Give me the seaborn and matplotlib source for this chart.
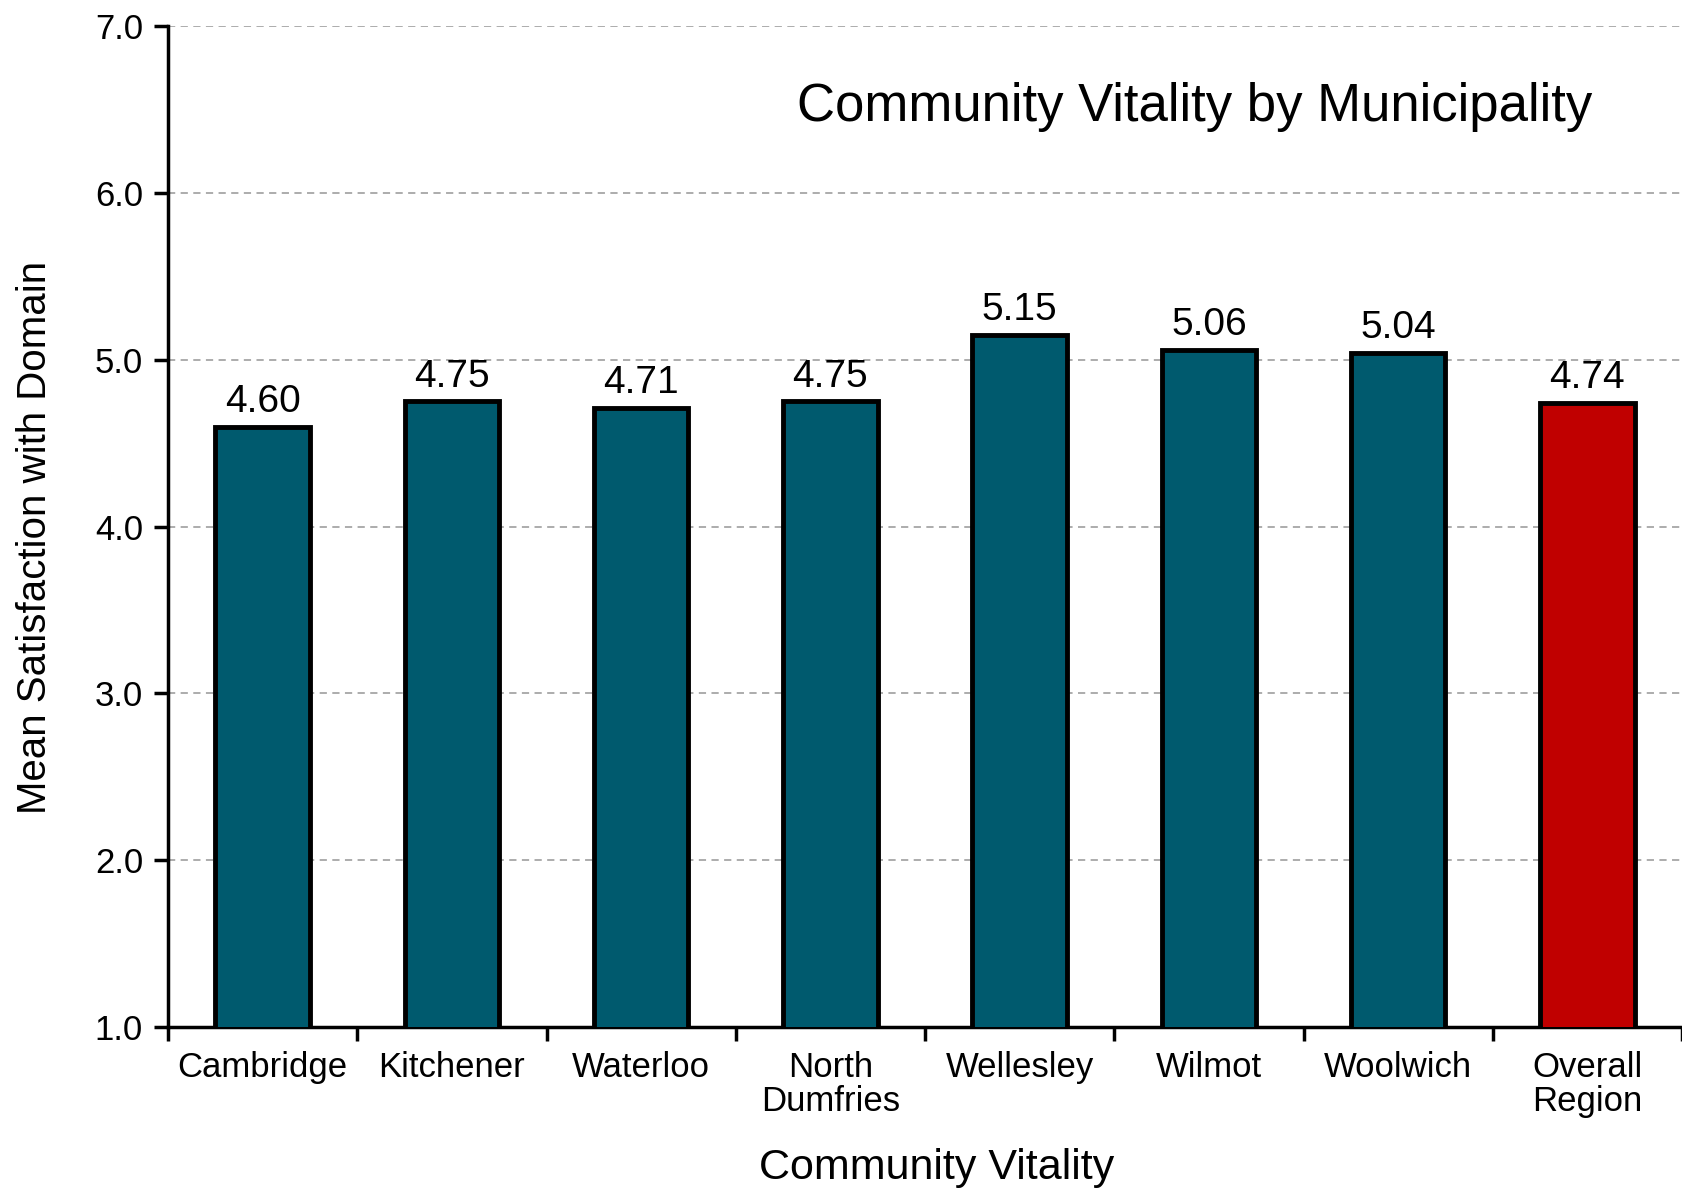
import seaborn as sns
import matplotlib.pyplot as plt
import pandas as pd
import numpy as np

municipalities = ["Cambridge", "Kitchener", "Waterloo", "North\nDumfries", "Wellesley",
                  "Wilmot", "Woolwich", "Overall\nRegion"]
mean_satisfaction = [4.60, 4.75, 4.71, 4.75, 5.15, 5.06, 5.04, 4.74]
bar_colors = ["#005A6E"] * 7 + ["#C00000"]

sns.set_style("white")
plt.rcParams['font.family'] = ['Liberation Sans', 'DejaVu Sans']
plt.rcParams['text.color'] = 'black'
plt.rcParams['xtick.color'] = 'black'
plt.rcParams['ytick.color'] = 'black'

df = pd.DataFrame({"Municipality": municipalities, "Mean": mean_satisfaction})

fig = plt.figure(figsize=(16.82, 11.89), dpi=100)
ax = fig.add_axes([0.0999, 0.1362, 0.9001, 0.8418])

sns.barplot(data=df, x="Municipality", y="Mean", hue="Municipality", palette=bar_colors,
            legend=False, width=0.5, edgecolor="black", linewidth=3.5, saturation=1, ax=ax, zorder=3)

for cont in ax.containers:
    ax.bar_label(cont, fmt="%.2f", padding=5, fontsize=28, color="black")

ax.set_ylim(1.0, 7.0)
ax.set_xlim(-0.5, len(municipalities) - 0.5)
ax.set_yticks(np.arange(1.0, 7.01, 1.0))
ax.set_yticklabels([f"{v:.1f}" for v in np.arange(1.0, 7.01, 1.0)], fontsize=25)
ax.yaxis.grid(True, linestyle=(0, (4, 3)), color="#A6A6A6", linewidth=1.3, zorder=0)
ax.set_axisbelow(True)

ax.set_xticks(np.arange(-0.5, len(municipalities)), minor=True)
ax.tick_params(axis="x", which="major", bottom=False, length=0, pad=17, labelsize=25)
ax.tick_params(axis="x", which="minor", bottom=True, length=10, width=2.5, direction="out")
ax.tick_params(axis="y", which="major", left=True, length=10, width=2.5, direction="out", pad=8)
for lbl in ax.get_xticklabels():
    lbl.set_linespacing(1.05)

for s in ["top", "right"]:
    ax.spines[s].set_visible(False)
for s in ["left", "bottom"]:
    ax.spines[s].set_color("black")
    ax.spines[s].set_linewidth(2.5)

ax.set_xlabel("")
ax.set_ylabel("")
fig.text(0.557, 0.018, "Community Vitality", fontsize=31, ha="center", va="center")
fig.text(0.021, 0.548, "Mean Satisfaction with Domain", fontsize=29, rotation=90,
         ha="center", va="center")
fig.text(0.71, 0.91, "Community Vitality by Municipality", fontsize=38, ha="center", va="center")

fig.savefig("out.png", dpi=100)
